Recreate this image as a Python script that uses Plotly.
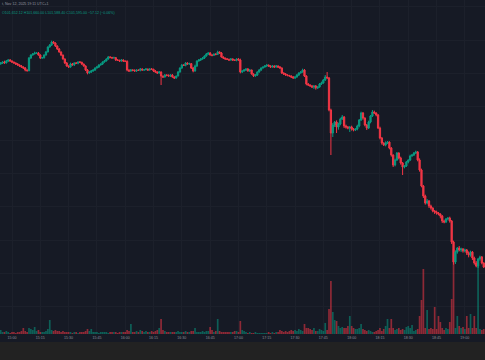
import pandas as pd
import plotly.graph_objects as go

# ---- data (1-minute candles, BTC/USDT, 12 Nov 2025) ----
start_time = "2025-11-12 14:54"

closes = [
    104655, 104670, 104655, 104685, 104700, 104685, 104670, 104655, 104640, 104625,
    104610, 104595, 104580, 104550, 104540, 104730, 104775, 104790, 104805, 104805,
    104775, 104730, 104735, 104775, 104820, 104895, 104925, 104970, 104955, 104910,
    104865, 104820, 104775, 104715, 104655, 104610, 104595, 104640, 104625, 104655,
    104650, 104670, 104665, 104640, 104610, 104550, 104505, 104520, 104535, 104550,
    104580, 104595, 104625, 104640, 104670, 104685, 104715, 104745, 104740, 104730,
    104735, 104700, 104695, 104685, 104700, 104685, 104680, 104550, 104535, 104550,
    104545, 104535, 104550, 104545, 104565, 104550, 104555, 104565, 104550, 104565,
    104560, 104535, 104520, 104505, 104520, 104460, 104445, 104475, 104470, 104460,
    104475, 104445, 104430, 104460, 104520, 104580, 104625, 104620, 104655, 104640,
    104645, 104580, 104535, 104610, 104685, 104700, 104715, 104730, 104760, 104790,
    104805, 104775, 104770, 104790, 104785, 104820, 104805, 104745, 104730, 104715,
    104710, 104700, 104715, 104700, 104695, 104715, 104700, 104520, 104535, 104550,
    104565, 104535, 104550, 104490, 104460, 104475, 104520, 104550, 104580, 104595,
    104610, 104625, 104610, 104595, 104610, 104595, 104610, 104595, 104580, 104505,
    104490, 104475, 104470, 104460, 104445, 104430, 104445, 104475, 104505, 104520,
    104550, 104460, 104340, 104325, 104310, 104295, 104310, 104280, 104295, 104340,
    104355, 104400, 104445, 104430, 103950, 103605, 103725, 103770, 103695, 103740,
    103815, 103845, 103710, 103695, 103680, 103695, 103665, 103650, 103665, 103710,
    103800, 103905, 103830, 103725, 103680, 103770, 103860, 103920, 103905, 103875,
    103680, 103530, 103455, 103425, 103455, 103470, 103380, 103275, 103125, 103200,
    103305, 103230, 103155, 103095, 103110, 103170, 103200, 103260, 103275, 103305,
    103320, 103200, 103050, 102810, 102660, 102555, 102585, 102510, 102480, 102435,
    102420, 102405, 102390, 102360, 102285, 102270, 102315, 102330, 102285, 101970,
    101670, 101820, 101880, 101850, 101865, 101835, 101850, 101805, 101775, 101820,
    101730, 101655, 101610, 101715, 101745, 101655, 101595,
]
first_open = 104640

upper_wicks = [
    15, 10, 20, 15, 10, 15, 10, 5, 10, 15,
    10, 15, 10, 15, 10, 15, 10, 15, 20, 10,
    15, 10, 5, 10, 15, 10, 15, 20, 15, 10,
    10, 15, 10, 5, 10, 15, 10, 20, 15, 10,
    15, 10, 15, 10, 5, 10, 15, 10, 15, 10,
    10, 15, 10, 5, 10, 15, 10, 15, 10, 5,
    15, 10, 15, 10, 15, 10, 5, 15, 10, 15,
    10, 15, 10, 5, 15, 10, 10, 15, 5, 10,
    15, 10, 15, 10, 15, 10, 5, 15, 10, 15,
    10, 15, 10, 5, 15, 10, 15, 10, 15, 10,
    15, 10, 15, 20, 10, 15, 10, 15, 10, 15,
    10, 15, 10, 5, 10, 20, 10, 15, 10, 5,
    15, 10, 15, 10, 5, 10, 15, 20, 10, 15,
    10, 15, 10, 5, 10, 15, 10, 15, 10, 5,
    15, 10, 5, 10, 15, 10, 15, 10, 15, 10,
    10, 15, 10, 5, 10, 15, 10, 15, 10, 15,
    20, 15, 10, 15, 10, 15, 10, 15, 10, 15,
    20, 15, 30, 75, 15, 20, 30, 15, 25, 20,
    20, 30, 15, 20, 15, 10, 20, 15, 10, 20,
    15, 20, 15, 10, 15, 20, 15, 30, 20, 10,
    15, 20, 15, 10, 25, 15, 10, 15, 10, 20,
    15, 10, 20, 15, 10, 15, 10, 20, 15, 15,
    20, 15, 25, 20, 15, 20, 30, 15, 20, 10,
    15, 20, 15, 10, 15, 20, 15, 10, 20, 15,
    20, 25, 15, 30, 20, 15, 20, 15, 25, 20,
    15, 20, 30, 15, 20, 15, 10,
]
lower_wicks = [
    10, 15, 10, 5, 15, 10, 15, 10, 15, 10,
    15, 10, 15, 20, 15, 10, 15, 10, 5, 15,
    10, 15, 10, 15, 10, 5, 10, 15, 10, 15,
    15, 10, 15, 10, 15, 10, 15, 10, 5, 15,
    10, 15, 10, 15, 10, 15, 20, 10, 15, 10,
    15, 10, 15, 10, 15, 10, 5, 10, 15, 10,
    10, 15, 10, 15, 10, 15, 10, 20, 15, 10,
    15, 10, 15, 10, 15, 10, 15, 10, 15, 10,
    10, 15, 10, 15, 10, 135, 15, 10, 15, 10,
    15, 10, 15, 10, 5, 10, 15, 10, 15, 10,
    10, 15, 20, 10, 15, 10, 15, 10, 15, 10,
    15, 10, 15, 10, 15, 10, 15, 10, 15, 10,
    10, 15, 10, 15, 10, 15, 10, 20, 15, 10,
    15, 10, 15, 10, 15, 10, 15, 10, 15, 10,
    10, 15, 10, 15, 10, 15, 10, 15, 10, 15,
    15, 10, 15, 10, 15, 10, 15, 10, 15, 10,
    10, 15, 20, 15, 10, 15, 30, 25, 15, 10,
    15, 10, 15, 10, 20, 330, 60, 30, 90, 40,
    20, 15, 30, 25, 20, 60, 25, 20, 15, 20,
    20, 15, 25, 20, 30, 15, 20, 15, 10, 20,
    15, 20, 25, 15, 20, 15, 20, 25, 30, 20,
    15, 20, 25, 120, 20, 15, 20, 15, 10, 15,
    15, 20, 25, 20, 30, 25, 20, 30, 25, 20,
    30, 25, 20, 35, 30, 20, 15, 20, 25, 30,
    40, 30, 25, 20, 30, 25, 20, 30, 35, 25,
    30, 25, 20, 30, 25, 20, 15,
]
volumes = [
    40, 20, 20, 30, 20, 10, 20, 20, 10, 20,
    20, 30, 60, 30, 20, 60, 50, 40, 70, 30,
    40, 20, 20, 20, 30, 50, 140, 40, 30, 40,
    30, 30, 20, 30, 20, 20, 20, 20, 10, 20,
    20, 10, 20, 20, 20, 30, 50, 30, 50, 20,
    20, 20, 10, 20, 20, 20, 20, 10, 20, 20,
    20, 20, 10, 20, 20, 20, 20, 40, 30, 100,
    20, 20, 30, 20, 40, 30, 20, 30, 20, 20,
    30, 20, 30, 40, 60, 150, 40, 30, 20, 20,
    20, 20, 20, 20, 30, 20, 20, 20, 30, 20,
    20, 30, 30, 60, 20, 20, 20, 30, 20, 30,
    30, 70, 40, 20, 30, 150, 30, 20, 20, 20,
    20, 20, 20, 20, 30, 30, 20, 130, 40, 30,
    20, 10, 20, 10, 10, 20, 10, 10, 10, 10,
    10, 10, 20, 10, 20, 10, 20, 20, 40, 30,
    20, 30, 20, 30, 40, 30, 40, 30, 50, 40,
    30, 100, 60, 60, 50, 40, 60, 30, 30, 50,
    40, 30, 110, 40, 250, 530, 220, 140, 130, 80,
    60, 70, 60, 60, 80, 180, 80, 60, 50, 50,
    60, 100, 50, 40, 30, 40, 30, 20, 20, 30,
    40, 60, 30, 50, 80, 150, 60, 150, 60, 40,
    50, 60, 40, 50, 40, 70, 80, 60, 90, 30,
    40, 50, 180, 340, 650, 60, 240, 50, 60, 50,
    270, 50, 180, 120, 60, 40, 60, 50, 120, 350,
    850, 60, 180, 80, 60, 70, 50, 180, 60, 200,
    60, 180, 60, 720, 50, 40, 50,
]
tick_times = ["15:00", "15:15", "15:30", "15:45", "16:00", "16:15", "16:30", "16:45",
              "17:00", "17:15", "17:30", "17:45", "18:00", "18:15", "18:30", "18:45", "19:00"]
header_line1 = "t, Nov 12, 2025 19:11 UTC+1"
header_line2 = "O101,652.12 H101,660.00 L101,588.40 C101,595.00 −57.12 (−0.06%)"

assert len(closes) == len(upper_wicks) == len(lower_wicks) == len(volumes)

# ---- derived candle fields ----
n = len(closes)
times = pd.date_range(start_time, periods=n, freq="min")
opens = [first_open] + closes[:-1]
highs = [max(o, c) + u for o, c, u in zip(opens, closes, upper_wicks)]
lows = [min(o, c) - d for o, c, d in zip(opens, closes, lower_wicks)]

GREEN = "#089981"
RED = "#f23645"
BG = "#161a25"
GRID = "#1c202b"
vol_colors = ["rgba(8,153,129,0.55)" if c >= o else "rgba(242,54,69,0.55)"
              for o, c in zip(opens, closes)]

fig = go.Figure()
fig.add_trace(go.Bar(
    x=times, y=volumes, marker=dict(color=vol_colors, line=dict(width=0)),
    yaxis="y", hoverinfo="skip", showlegend=False,
))
fig.add_trace(go.Candlestick(
    x=times, open=opens, high=highs, low=lows, close=closes, yaxis="y2",
    increasing=dict(line=dict(color=GREEN, width=1), fillcolor=GREEN),
    decreasing=dict(line=dict(color=RED, width=1), fillcolor=RED),
    whiskerwidth=0, showlegend=False,
))

tickvals = [pd.Timestamp("2025-11-12 " + t) for t in tick_times]

fig.update_layout(
    width=485, height=360,
    margin=dict(l=0, r=0, t=0, b=26),
    paper_bgcolor=BG, plot_bgcolor=BG,
    bargap=0.1, boxgap=0.05,
    showlegend=False,
    xaxis=dict(
        type="date",
        range=["2025-11-12 14:53:38", "2025-11-12 19:10:40"],
        tickvals=tickvals, ticktext=tick_times,
        showgrid=True, gridcolor=GRID, gridwidth=1,
        tickfont=dict(size=3.6, color="#8d919b", family="Liberation Sans"),
        ticks="", showline=False, zeroline=False,
        rangeslider=dict(visible=False),
    ),
    yaxis=dict(range=[0, 3340], showgrid=False, showticklabels=False,
               zeroline=False, showline=False),
    yaxis2=dict(overlaying="y", side="right", range=[100590, 105600],
                dtick=500, showgrid=True, gridcolor=GRID, gridwidth=1,
                showticklabels=False, zeroline=False, showline=False),
    shapes=[dict(type="rect", xref="paper", yref="paper",
                 x0=0, x1=1, y0=-26 / 334, y1=-8 / 334,
                 fillcolor="#222222", line=dict(width=0), layer="below")],
    annotations=[
        dict(text=header_line1, xref="paper", yref="paper", x=0, y=1 - 4 / 334,
             xanchor="left", yanchor="middle", showarrow=False,
             font=dict(size=3.6, color="#9598a1", family="Liberation Sans")),
        dict(text=header_line2, xref="paper", yref="paper", x=0, y=1 - 13 / 334,
             xanchor="left", yanchor="middle", showarrow=False,
             font=dict(size=3.6, color=GREEN, family="Liberation Sans")),
    ],
)

fig.write_html("out.html",
               config={"displayModeBar": False},
               post_script="document.body.style.margin='0';document.body.style.background='" + BG + "';")
